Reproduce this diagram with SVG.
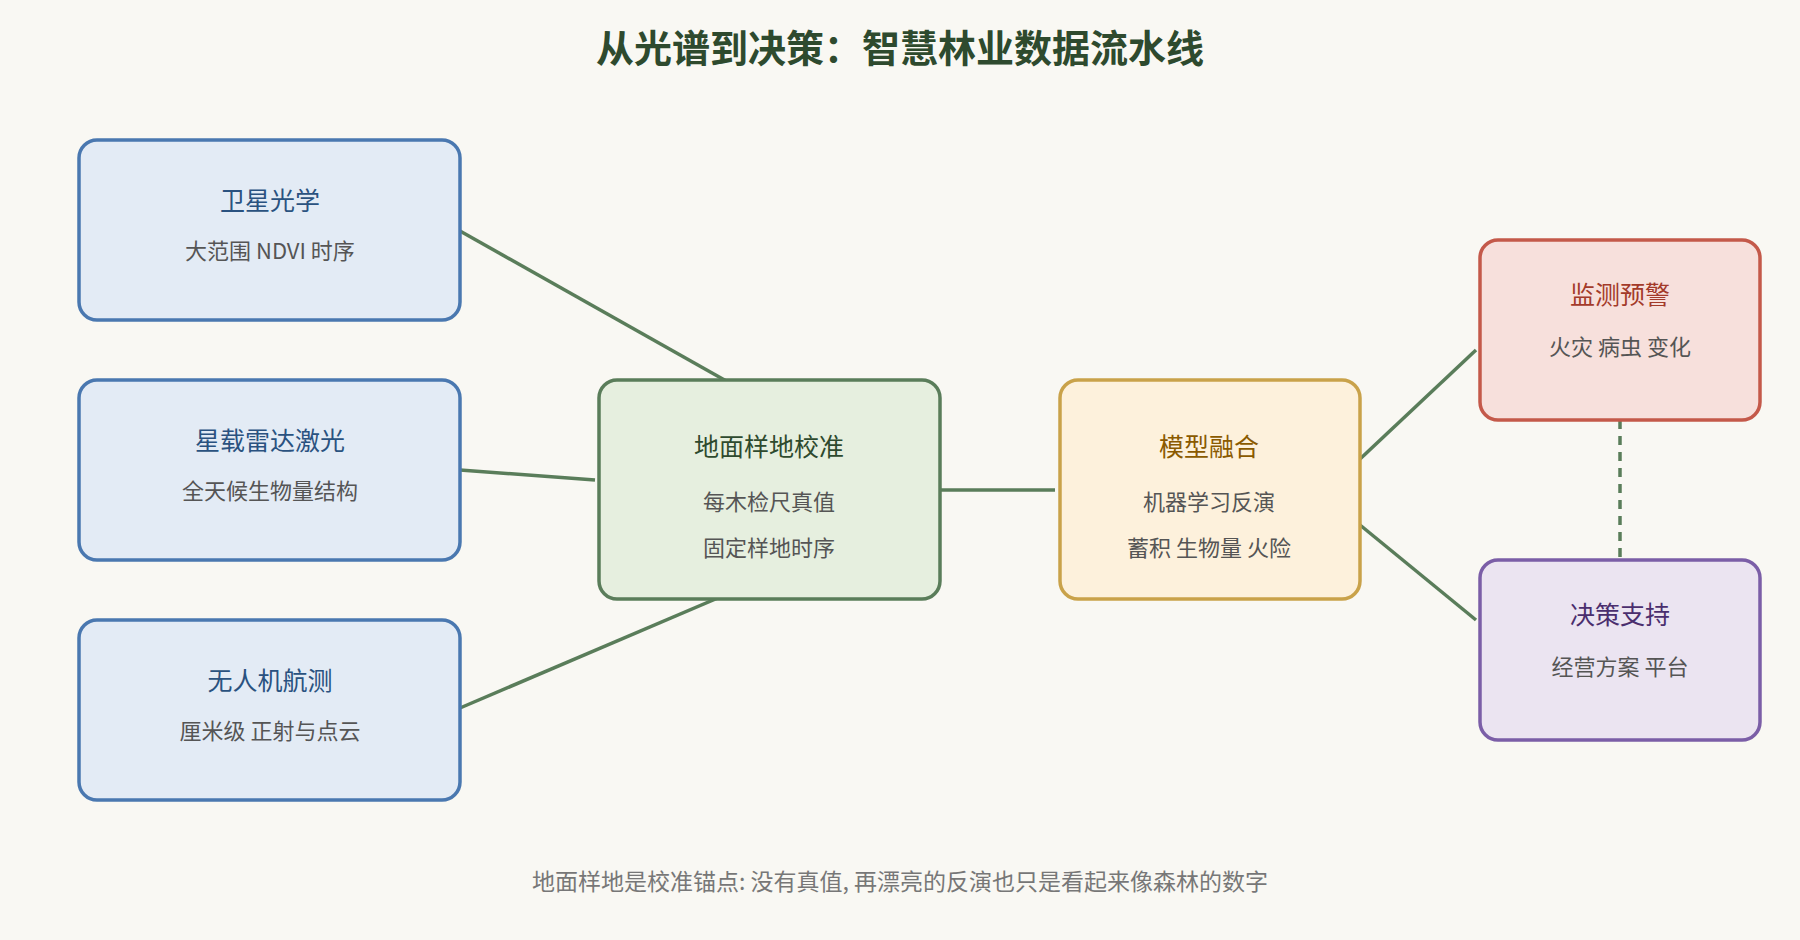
<svg xmlns="http://www.w3.org/2000/svg" width="1800" height="940" viewBox="0 0 1800 940">
<style>
text{font-family:"Noto Sans CJK SC","Noto Sans",sans-serif;text-anchor:middle}
.t{font-size:25px}.s{font-size:22px;fill:#555}
.b rect{fill:#e3ebf5;stroke:#4a78b0}.b .t{fill:#2a5280}
.g rect{fill:#e6efdf;stroke:#5a7d5a}.g .t{fill:#2e4a2e}
.y rect{fill:#fdf1dc;stroke:#c9a24a}.y .t{fill:#8a5a00}
.r rect{fill:#f7e0dc;stroke:#c4594a}.r .t{fill:#a33a2a}
.p rect{fill:#ebe4f1;stroke:#7b5ea7}.p .t{fill:#4a2e6e}
rect{stroke-width:3.5}
#edges line{stroke:#5a7d5a;stroke-width:3.5}
</style>
<rect width="1800" height="940" fill="#f9f8f3"/>
<text x="900" y="62" style="font-size:38px;font-weight:bold;fill:#2e4a2e">从光谱到决策：智慧林业数据流水线</text>
<g id="edges">
<line x1="460" y1="231" x2="760" y2="400"/>
<line x1="460" y1="470" x2="595" y2="480"/>
<line x1="460" y1="708" x2="760" y2="580"/>
<line x1="940" y1="490" x2="1055" y2="490"/>
<line x1="1360" y1="459" x2="1476" y2="350"/>
<line x1="1360" y1="525" x2="1476" y2="620"/>
<line x1="1620" y1="420" x2="1620" y2="560" stroke-dasharray="9,7"/>
</g>
<g id="n1" class="b"><rect x="79" y="140" width="381" height="180" rx="18"/><text class="t" x="270" y="210">卫星光学</text><text class="s" x="270" y="259">大范围 NDVI 时序</text></g>
<g id="n2" class="b"><rect x="79" y="380" width="381" height="180" rx="18"/><text class="t" x="270" y="450">星载雷达激光</text><text class="s" x="270" y="499">全天候生物量结构</text></g>
<g id="n3" class="b"><rect x="79" y="620" width="381" height="180" rx="18"/><text class="t" x="270" y="690">无人机航测</text><text class="s" x="270" y="739">厘米级 正射与点云</text></g>
<g id="n4" class="g"><rect x="599" y="380" width="341" height="219" rx="18"/><text class="t" x="769" y="456">地面样地校准</text><text class="s" x="769" y="510">每木检尺真值</text><text class="s" x="769" y="556">固定样地时序</text></g>
<g id="n5" class="y"><rect x="1060" y="380" width="300" height="219" rx="18"/><text class="t" x="1209" y="456">模型融合</text><text class="s" x="1209" y="510">机器学习反演</text><text class="s" x="1209" y="556">蓄积 生物量 火险</text></g>
<g id="n6" class="r"><rect x="1480" y="240" width="280" height="180" rx="18"/><text class="t" x="1620" y="304">监测预警</text><text class="s" x="1620" y="355">火灾 病虫 变化</text></g>
<g id="n7" class="p"><rect x="1480" y="560" width="280" height="180" rx="18"/><text class="t" x="1620" y="624">决策支持</text><text class="s" x="1620" y="675">经营方案 平台</text></g>
<text x="900" y="890" style="font-size:23px;fill:#777">地面样地是校准锚点: 没有真值, 再漂亮的反演也只是看起来像森林的数字</text>
</svg>
